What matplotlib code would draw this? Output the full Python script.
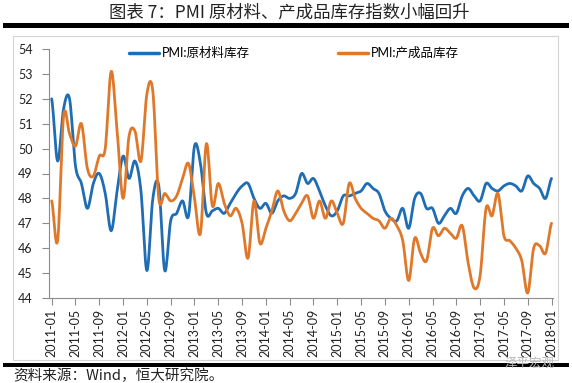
import numpy as np
import pandas as pd
import matplotlib
matplotlib.use("Agg")
import matplotlib.pyplot as plt
from matplotlib.patches import Rectangle

plt.rcParams['font.family'] = ['Lato', 'Noto Sans CJK SC', 'DejaVu Sans']

# =====================================================
# Data (monthly, 2011-01 .. 2018-01)
# =====================================================

months = pd.date_range("2011-01-01", "2018-01-01", freq="MS")
tick_labels = [d.strftime("%Y-%m") for d in months[::4]]

raw_material = [52.0, 49.5, 51.6, 52.0, 49.3, 48.6, 47.6, 48.6, 49.0, 48.2, 46.7, 48.3,
                49.7, 48.8, 49.5, 48.3, 45.1, 48.0, 48.5, 45.1, 47.1, 47.4, 47.9, 47.3,
                50.1, 49.4, 47.4, 47.5, 47.6, 47.4, 47.8, 48.2, 48.5, 48.6, 48.0, 47.6,
                47.8, 47.4, 47.9, 48.1, 48.0, 48.2, 49.0, 48.6, 48.8, 48.3, 47.7, 47.3,
                47.5, 48.1, 48.1, 48.2, 48.3, 48.6, 48.4, 48.2, 47.5, 47.2, 47.1, 47.6,
                46.8, 48.0, 48.2, 47.6, 47.6, 47.0, 47.3, 47.6, 47.4, 48.1, 48.4, 48.1,
                47.9, 48.6, 48.4, 48.3, 48.5, 48.6, 48.5, 48.3, 48.9, 48.6, 48.4, 48.0,
                48.8]

finished_goods = [47.9, 46.3, 51.3, 50.6, 50.1, 51.0, 49.2, 48.9, 49.7, 50.0, 53.1, 50.7,
                  48.0, 50.5, 50.7, 49.5, 52.2, 52.3, 48.0, 48.2, 47.9, 48.1, 48.8, 49.4,
                  48.0, 46.6, 50.2, 47.7, 48.6, 47.8, 47.3, 47.6, 47.0, 45.6, 47.9, 46.2,
                  46.8, 47.5, 48.3, 47.5, 47.1, 47.4, 47.8, 48.1, 47.2, 47.9, 47.2, 47.9,
                  47.4, 47.0, 48.6, 48.0, 47.6, 47.4, 47.2, 47.1, 46.8, 47.2, 46.9, 46.3,
                  44.7, 46.4, 45.8, 45.5, 46.8, 46.5, 46.8, 46.6, 46.4, 46.9, 45.4, 44.4,
                  44.9, 47.6, 47.3, 48.2, 46.5, 46.3, 46.0, 45.5, 44.2, 46.0, 46.1, 45.8,
                  47.0]

series_names = ["PMI:原材料库存", "PMI:产成品库存"]
series_colors = ["#1f6db4", "#e0782a"]


# Excel-style smoothed line (Catmull-Rom through the data points)
def smooth_line(values, steps=12):
    y = np.asarray(values, dtype=float)
    p = np.concatenate([[y[0]], y, [y[-1]]])
    t = np.linspace(0, 1, steps, endpoint=False)
    xs, ys = [], []
    for i in range(len(y) - 1):
        p0, p1, p2, p3 = p[i], p[i + 1], p[i + 2], p[i + 3]
        seg = 0.5 * ((2 * p1) + (-p0 + p2) * t
                     + (2 * p0 - 5 * p1 + 4 * p2 - p3) * t ** 2
                     + (-p0 + 3 * p1 - 3 * p2 + p3) * t ** 3)
        xs.append(i + t)
        ys.append(seg)
    xs.append([len(y) - 1])
    ys.append([y[-1]])
    return np.concatenate(xs), np.concatenate(ys)


W, H = 572, 383
fig = plt.figure(figsize=(W / 100, H / 100), dpi=100)
fig.patch.set_facecolor("white")


def fx(px):
    return px / W


def fy(py):
    return 1 - py / H


# =====================================================
# Frame decorations (title, bars, border)
# =====================================================

fig.text(0.505, fy(13), "图表 7：PMI 原材料、产成品库存指数小幅回升",
         ha="center", va="center", fontsize=12.5, color="#222222",
         family=["Noto Sans CJK SC"])
fig.add_artist(Rectangle((fx(3), fy(27.5)), fx(569) - fx(3), 4.5 / H,
                         transform=fig.transFigure, color="black", lw=0))
fig.add_artist(Rectangle((fx(13), fy(360)), fx(558) - fx(13), (360 - 36) / H,
                         transform=fig.transFigure, fill=False,
                         edgecolor="#d4d4d4", lw=0.8))
fig.add_artist(Rectangle((fx(3), fy(367)), fx(569) - fx(3), 4.5 / H,
                         transform=fig.transFigure, color="black", lw=0))
fig.text(fx(13), fy(376), "资料来源：Wind，恒大研究院。", ha="left", va="center",
         fontsize=10.5, color="#222222", style="italic",
         family=["Noto Sans CJK SC"])
fig.text(fx(530), fy(363), "泽平宏观", ha="center", va="center",
         fontsize=9, color="#b8b8b8", family=["Noto Sans CJK SC"])

# =====================================================
# Plot
# =====================================================

ax = fig.add_axes([fx(49.3), fy(298), fx(553) - fx(49.3), (298 - 49) / H])

x_idx = np.arange(len(months))
for vals, name, col in zip([raw_material, finished_goods], series_names, series_colors):
    sx, sy = smooth_line(vals)
    ax.plot(sx, sy, color=col, lw=2.0, label=name, solid_capstyle="round")

ax.set_ylim(44, 54)
ax.set_yticks(np.arange(44, 55, 1))
ax.set_xlim(-0.4, len(months) - 1 + 0.25)
ax.set_xticks(x_idx[::4])
ax.set_xticklabels(tick_labels, rotation=90, fontsize=9, color="#222222")

ax.tick_params(axis="y", labelsize=9, colors="#222222", length=5, width=0.8,
               direction="out", pad=7, color="#8c8c8c")
ax.tick_params(axis="x", length=5, width=0.8, direction="out", pad=3,
               color="#8c8c8c")

for s in ["top", "right"]:
    ax.spines[s].set_visible(False)
for s in ["left", "bottom"]:
    ax.spines[s].set_color("#8c8c8c")
    ax.spines[s].set_linewidth(0.8)

leg = ax.legend(loc="center left", bbox_to_anchor=(fx(129), fy(53)),
                bbox_transform=fig.transFigure, ncol=2, frameon=False,
                fontsize=9, handlelength=2.4, handletextpad=0.25,
                columnspacing=7.0, borderpad=0, borderaxespad=0)
for line in leg.get_lines():
    line.set_linewidth(2.5)

fig.savefig("out.png", dpi=100, facecolor="white")
